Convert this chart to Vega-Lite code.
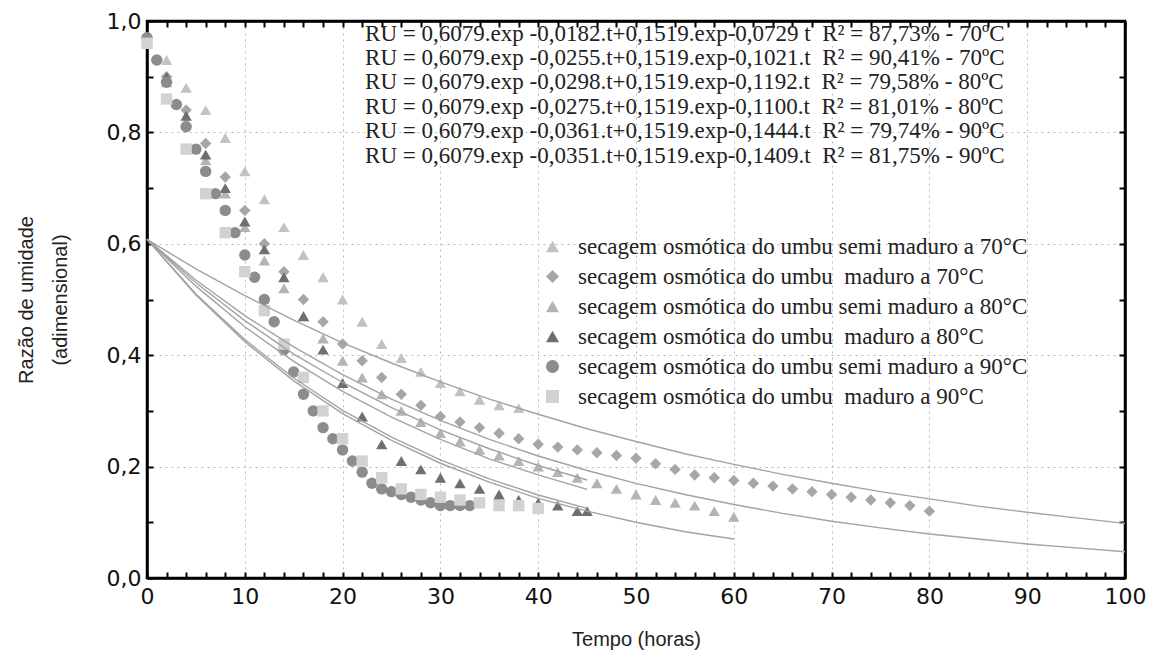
{
  "$schema": "https://vega.github.io/schema/vega-lite/v6.json",
  "width": 978,
  "height": 557,
  "autosize": {"type": "none"},
  "padding": {"left": 147, "top": 21, "right": 34, "bottom": 91},
  "background": "white",
  "config": {
    "view": {"stroke": "black", "strokeWidth": 2.5},
    "font": "Liberation Sans"
  },
  "datasets": {
    "obs": [
      {"s": "semi maduro a 70°C", "t": 0, "v": 0.97}, {"s": "semi maduro a 70°C", "t": 2, "v": 0.93}, {"s": "semi maduro a 70°C", "t": 4, "v": 0.88}, {"s": "semi maduro a 70°C", "t": 6, "v": 0.84}, {"s": "semi maduro a 70°C", "t": 8, "v": 0.79}, {"s": "semi maduro a 70°C", "t": 10, "v": 0.73}, {"s": "semi maduro a 70°C", "t": 12, "v": 0.68}, {"s": "semi maduro a 70°C", "t": 14, "v": 0.63}, {"s": "semi maduro a 70°C", "t": 16, "v": 0.58}, {"s": "semi maduro a 70°C", "t": 18, "v": 0.54}, {"s": "semi maduro a 70°C", "t": 20, "v": 0.5}, {"s": "semi maduro a 70°C", "t": 22, "v": 0.46}, {"s": "semi maduro a 70°C", "t": 24, "v": 0.42}, {"s": "semi maduro a 70°C", "t": 26, "v": 0.395}, {"s": "semi maduro a 70°C", "t": 28, "v": 0.37}, {"s": "semi maduro a 70°C", "t": 30, "v": 0.35}, {"s": "semi maduro a 70°C", "t": 32, "v": 0.335}, {"s": "semi maduro a 70°C", "t": 34, "v": 0.32}, {"s": "semi maduro a 70°C", "t": 36, "v": 0.31}, {"s": "semi maduro a 70°C", "t": 38, "v": 0.305},
      {"s": "\u00a0maduro a 70°C", "t": 0, "v": 0.97}, {"s": "\u00a0maduro a 70°C", "t": 2, "v": 0.9}, {"s": "\u00a0maduro a 70°C", "t": 4, "v": 0.84}, {"s": "\u00a0maduro a 70°C", "t": 6, "v": 0.78}, {"s": "\u00a0maduro a 70°C", "t": 8, "v": 0.72}, {"s": "\u00a0maduro a 70°C", "t": 10, "v": 0.66}, {"s": "\u00a0maduro a 70°C", "t": 12, "v": 0.6}, {"s": "\u00a0maduro a 70°C", "t": 14, "v": 0.55}, {"s": "\u00a0maduro a 70°C", "t": 16, "v": 0.5}, {"s": "\u00a0maduro a 70°C", "t": 18, "v": 0.46}, {"s": "\u00a0maduro a 70°C", "t": 20, "v": 0.42}, {"s": "\u00a0maduro a 70°C", "t": 22, "v": 0.39}, {"s": "\u00a0maduro a 70°C", "t": 24, "v": 0.36}, {"s": "\u00a0maduro a 70°C", "t": 26, "v": 0.33}, {"s": "\u00a0maduro a 70°C", "t": 28, "v": 0.31}, {"s": "\u00a0maduro a 70°C", "t": 30, "v": 0.29}, {"s": "\u00a0maduro a 70°C", "t": 32, "v": 0.28}, {"s": "\u00a0maduro a 70°C", "t": 34, "v": 0.27}, {"s": "\u00a0maduro a 70°C", "t": 36, "v": 0.26}, {"s": "\u00a0maduro a 70°C", "t": 38, "v": 0.25}, {"s": "\u00a0maduro a 70°C", "t": 40, "v": 0.24}, {"s": "\u00a0maduro a 70°C", "t": 42, "v": 0.235}, {"s": "\u00a0maduro a 70°C", "t": 44, "v": 0.23}, {"s": "\u00a0maduro a 70°C", "t": 46, "v": 0.225}, {"s": "\u00a0maduro a 70°C", "t": 48, "v": 0.22}, {"s": "\u00a0maduro a 70°C", "t": 50, "v": 0.215}, {"s": "\u00a0maduro a 70°C", "t": 52, "v": 0.205}, {"s": "\u00a0maduro a 70°C", "t": 54, "v": 0.195}, {"s": "\u00a0maduro a 70°C", "t": 56, "v": 0.185}, {"s": "\u00a0maduro a 70°C", "t": 58, "v": 0.18}, {"s": "\u00a0maduro a 70°C", "t": 60, "v": 0.175}, {"s": "\u00a0maduro a 70°C", "t": 62, "v": 0.17}, {"s": "\u00a0maduro a 70°C", "t": 64, "v": 0.165}, {"s": "\u00a0maduro a 70°C", "t": 66, "v": 0.16}, {"s": "\u00a0maduro a 70°C", "t": 68, "v": 0.155}, {"s": "\u00a0maduro a 70°C", "t": 70, "v": 0.15}, {"s": "\u00a0maduro a 70°C", "t": 72, "v": 0.145}, {"s": "\u00a0maduro a 70°C", "t": 74, "v": 0.14}, {"s": "\u00a0maduro a 70°C", "t": 76, "v": 0.135}, {"s": "\u00a0maduro a 70°C", "t": 78, "v": 0.13}, {"s": "\u00a0maduro a 70°C", "t": 80, "v": 0.12},
      {"s": "semi maduro a 80°C", "t": 0, "v": 0.96}, {"s": "semi maduro a 80°C", "t": 2, "v": 0.89}, {"s": "semi maduro a 80°C", "t": 4, "v": 0.82}, {"s": "semi maduro a 80°C", "t": 6, "v": 0.75}, {"s": "semi maduro a 80°C", "t": 8, "v": 0.69}, {"s": "semi maduro a 80°C", "t": 10, "v": 0.63}, {"s": "semi maduro a 80°C", "t": 12, "v": 0.57}, {"s": "semi maduro a 80°C", "t": 14, "v": 0.52}, {"s": "semi maduro a 80°C", "t": 16, "v": 0.47}, {"s": "semi maduro a 80°C", "t": 18, "v": 0.43}, {"s": "semi maduro a 80°C", "t": 20, "v": 0.39}, {"s": "semi maduro a 80°C", "t": 22, "v": 0.36}, {"s": "semi maduro a 80°C", "t": 24, "v": 0.33}, {"s": "semi maduro a 80°C", "t": 26, "v": 0.3}, {"s": "semi maduro a 80°C", "t": 28, "v": 0.28}, {"s": "semi maduro a 80°C", "t": 30, "v": 0.26}, {"s": "semi maduro a 80°C", "t": 32, "v": 0.245}, {"s": "semi maduro a 80°C", "t": 34, "v": 0.23}, {"s": "semi maduro a 80°C", "t": 36, "v": 0.22}, {"s": "semi maduro a 80°C", "t": 38, "v": 0.21}, {"s": "semi maduro a 80°C", "t": 40, "v": 0.2}, {"s": "semi maduro a 80°C", "t": 42, "v": 0.19}, {"s": "semi maduro a 80°C", "t": 44, "v": 0.18}, {"s": "semi maduro a 80°C", "t": 46, "v": 0.17}, {"s": "semi maduro a 80°C", "t": 48, "v": 0.16}, {"s": "semi maduro a 80°C", "t": 50, "v": 0.15}, {"s": "semi maduro a 80°C", "t": 52, "v": 0.14}, {"s": "semi maduro a 80°C", "t": 54, "v": 0.135}, {"s": "semi maduro a 80°C", "t": 56, "v": 0.13}, {"s": "semi maduro a 80°C", "t": 58, "v": 0.12}, {"s": "semi maduro a 80°C", "t": 60, "v": 0.11},
      {"s": "\u00a0maduro a 80°C", "t": 0, "v": 0.97}, {"s": "\u00a0maduro a 80°C", "t": 2, "v": 0.9}, {"s": "\u00a0maduro a 80°C", "t": 4, "v": 0.83}, {"s": "\u00a0maduro a 80°C", "t": 6, "v": 0.76}, {"s": "\u00a0maduro a 80°C", "t": 8, "v": 0.7}, {"s": "\u00a0maduro a 80°C", "t": 10, "v": 0.64}, {"s": "\u00a0maduro a 80°C", "t": 12, "v": 0.59}, {"s": "\u00a0maduro a 80°C", "t": 14, "v": 0.54}, {"s": "\u00a0maduro a 80°C", "t": 16, "v": 0.47}, {"s": "\u00a0maduro a 80°C", "t": 18, "v": 0.41}, {"s": "\u00a0maduro a 80°C", "t": 20, "v": 0.35}, {"s": "\u00a0maduro a 80°C", "t": 22, "v": 0.29}, {"s": "\u00a0maduro a 80°C", "t": 24, "v": 0.24}, {"s": "\u00a0maduro a 80°C", "t": 26, "v": 0.21}, {"s": "\u00a0maduro a 80°C", "t": 28, "v": 0.195}, {"s": "\u00a0maduro a 80°C", "t": 30, "v": 0.18}, {"s": "\u00a0maduro a 80°C", "t": 32, "v": 0.17}, {"s": "\u00a0maduro a 80°C", "t": 34, "v": 0.16}, {"s": "\u00a0maduro a 80°C", "t": 36, "v": 0.15}, {"s": "\u00a0maduro a 80°C", "t": 38, "v": 0.14}, {"s": "\u00a0maduro a 80°C", "t": 40, "v": 0.135}, {"s": "\u00a0maduro a 80°C", "t": 42, "v": 0.13}, {"s": "\u00a0maduro a 80°C", "t": 44, "v": 0.12}, {"s": "\u00a0maduro a 80°C", "t": 45, "v": 0.12},
      {"s": "semi maduro a 90°C", "t": 0, "v": 0.97}, {"s": "semi maduro a 90°C", "t": 1, "v": 0.93}, {"s": "semi maduro a 90°C", "t": 2, "v": 0.89}, {"s": "semi maduro a 90°C", "t": 3, "v": 0.85}, {"s": "semi maduro a 90°C", "t": 4, "v": 0.81}, {"s": "semi maduro a 90°C", "t": 5, "v": 0.77}, {"s": "semi maduro a 90°C", "t": 6, "v": 0.73}, {"s": "semi maduro a 90°C", "t": 7, "v": 0.69}, {"s": "semi maduro a 90°C", "t": 8, "v": 0.66}, {"s": "semi maduro a 90°C", "t": 9, "v": 0.62}, {"s": "semi maduro a 90°C", "t": 10, "v": 0.58}, {"s": "semi maduro a 90°C", "t": 11, "v": 0.54}, {"s": "semi maduro a 90°C", "t": 12, "v": 0.5}, {"s": "semi maduro a 90°C", "t": 13, "v": 0.46}, {"s": "semi maduro a 90°C", "t": 14, "v": 0.41}, {"s": "semi maduro a 90°C", "t": 15, "v": 0.37}, {"s": "semi maduro a 90°C", "t": 16, "v": 0.33}, {"s": "semi maduro a 90°C", "t": 17, "v": 0.3}, {"s": "semi maduro a 90°C", "t": 18, "v": 0.27}, {"s": "semi maduro a 90°C", "t": 19, "v": 0.25}, {"s": "semi maduro a 90°C", "t": 20, "v": 0.23}, {"s": "semi maduro a 90°C", "t": 21, "v": 0.21}, {"s": "semi maduro a 90°C", "t": 22, "v": 0.19}, {"s": "semi maduro a 90°C", "t": 23, "v": 0.17}, {"s": "semi maduro a 90°C", "t": 24, "v": 0.16}, {"s": "semi maduro a 90°C", "t": 25, "v": 0.155}, {"s": "semi maduro a 90°C", "t": 26, "v": 0.15}, {"s": "semi maduro a 90°C", "t": 27, "v": 0.145}, {"s": "semi maduro a 90°C", "t": 28, "v": 0.14}, {"s": "semi maduro a 90°C", "t": 29, "v": 0.135}, {"s": "semi maduro a 90°C", "t": 30, "v": 0.13}, {"s": "semi maduro a 90°C", "t": 31, "v": 0.13}, {"s": "semi maduro a 90°C", "t": 32, "v": 0.13}, {"s": "semi maduro a 90°C", "t": 33, "v": 0.13},
      {"s": "\u00a0maduro a 90°C", "t": 0, "v": 0.96}, {"s": "\u00a0maduro a 90°C", "t": 2, "v": 0.86}, {"s": "\u00a0maduro a 90°C", "t": 4, "v": 0.77}, {"s": "\u00a0maduro a 90°C", "t": 6, "v": 0.69}, {"s": "\u00a0maduro a 90°C", "t": 8, "v": 0.62}, {"s": "\u00a0maduro a 90°C", "t": 10, "v": 0.55}, {"s": "\u00a0maduro a 90°C", "t": 12, "v": 0.48}, {"s": "\u00a0maduro a 90°C", "t": 14, "v": 0.42}, {"s": "\u00a0maduro a 90°C", "t": 16, "v": 0.36}, {"s": "\u00a0maduro a 90°C", "t": 18, "v": 0.3}, {"s": "\u00a0maduro a 90°C", "t": 20, "v": 0.25}, {"s": "\u00a0maduro a 90°C", "t": 22, "v": 0.21}, {"s": "\u00a0maduro a 90°C", "t": 24, "v": 0.18}, {"s": "\u00a0maduro a 90°C", "t": 26, "v": 0.16}, {"s": "\u00a0maduro a 90°C", "t": 28, "v": 0.15}, {"s": "\u00a0maduro a 90°C", "t": 30, "v": 0.145}, {"s": "\u00a0maduro a 90°C", "t": 32, "v": 0.14}, {"s": "\u00a0maduro a 90°C", "t": 34, "v": 0.135}, {"s": "\u00a0maduro a 90°C", "t": 36, "v": 0.13}, {"s": "\u00a0maduro a 90°C", "t": 38, "v": 0.13}, {"s": "\u00a0maduro a 90°C", "t": 40, "v": 0.125}
    ],
    "fit": [
      {"c": "L1", "t": 0, "v": 0.608}, {"c": "L1", "t": 5, "v": 0.555}, {"c": "L1", "t": 10, "v": 0.507}, {"c": "L1", "t": 15, "v": 0.463}, {"c": "L1", "t": 20, "v": 0.422}, {"c": "L1", "t": 25, "v": 0.386}, {"c": "L1", "t": 30, "v": 0.352}, {"c": "L1", "t": 35, "v": 0.321}, {"c": "L1", "t": 40, "v": 0.294}, {"c": "L1", "t": 45, "v": 0.268}, {"c": "L1", "t": 50, "v": 0.245}, {"c": "L1", "t": 55, "v": 0.223}, {"c": "L1", "t": 60, "v": 0.204}, {"c": "L1", "t": 65, "v": 0.186}, {"c": "L1", "t": 70, "v": 0.17}, {"c": "L1", "t": 75, "v": 0.155}, {"c": "L1", "t": 80, "v": 0.142}, {"c": "L1", "t": 85, "v": 0.129}, {"c": "L1", "t": 90, "v": 0.118}, {"c": "L1", "t": 95, "v": 0.108}, {"c": "L1", "t": 100, "v": 0.098},
      {"c": "L2", "t": 0, "v": 0.608}, {"c": "L2", "t": 5, "v": 0.535}, {"c": "L2", "t": 10, "v": 0.471}, {"c": "L2", "t": 15, "v": 0.415}, {"c": "L2", "t": 20, "v": 0.365}, {"c": "L2", "t": 25, "v": 0.321}, {"c": "L2", "t": 30, "v": 0.283}, {"c": "L2", "t": 35, "v": 0.249}, {"c": "L2", "t": 40, "v": 0.219}, {"c": "L2", "t": 45, "v": 0.193}, {"c": "L2", "t": 50, "v": 0.17}, {"c": "L2", "t": 55, "v": 0.15}, {"c": "L2", "t": 60, "v": 0.132}, {"c": "L2", "t": 65, "v": 0.116}, {"c": "L2", "t": 70, "v": 0.102}, {"c": "L2", "t": 75, "v": 0.09}, {"c": "L2", "t": 80, "v": 0.079}, {"c": "L2", "t": 85, "v": 0.07}, {"c": "L2", "t": 90, "v": 0.061}, {"c": "L2", "t": 95, "v": 0.054}, {"c": "L2", "t": 100, "v": 0.047},
      {"c": "L3", "t": 0, "v": 0.608}, {"c": "L3", "t": 5, "v": 0.524}, {"c": "L3", "t": 10, "v": 0.451}, {"c": "L3", "t": 15, "v": 0.389}, {"c": "L3", "t": 20, "v": 0.335}, {"c": "L3", "t": 25, "v": 0.289}, {"c": "L3", "t": 30, "v": 0.249}, {"c": "L3", "t": 35, "v": 0.214}, {"c": "L3", "t": 40, "v": 0.185}, {"c": "L3", "t": 45, "v": 0.159},
      {"c": "L4", "t": 0, "v": 0.608}, {"c": "L4", "t": 5, "v": 0.53}, {"c": "L4", "t": 10, "v": 0.462}, {"c": "L4", "t": 15, "v": 0.402}, {"c": "L4", "t": 20, "v": 0.351}, {"c": "L4", "t": 25, "v": 0.306}, {"c": "L4", "t": 30, "v": 0.266}, {"c": "L4", "t": 35, "v": 0.232}, {"c": "L4", "t": 40, "v": 0.202}, {"c": "L4", "t": 45, "v": 0.176},
      {"c": "L5", "t": 0, "v": 0.608}, {"c": "L5", "t": 5, "v": 0.508}, {"c": "L5", "t": 10, "v": 0.424}, {"c": "L5", "t": 15, "v": 0.354}, {"c": "L5", "t": 20, "v": 0.295}, {"c": "L5", "t": 25, "v": 0.247}, {"c": "L5", "t": 30, "v": 0.206}, {"c": "L5", "t": 35, "v": 0.172}, {"c": "L5", "t": 40, "v": 0.143}, {"c": "L5", "t": 45, "v": 0.12}, {"c": "L5", "t": 50, "v": 0.1}, {"c": "L5", "t": 55, "v": 0.083}, {"c": "L5", "t": 60, "v": 0.07},
      {"c": "L6", "t": 0, "v": 0.608}, {"c": "L6", "t": 5, "v": 0.51}, {"c": "L6", "t": 10, "v": 0.428}, {"c": "L6", "t": 15, "v": 0.359}, {"c": "L6", "t": 20, "v": 0.301}, {"c": "L6", "t": 25, "v": 0.253}, {"c": "L6", "t": 30, "v": 0.212}, {"c": "L6", "t": 35, "v": 0.178}, {"c": "L6", "t": 40, "v": 0.149}, {"c": "L6", "t": 45, "v": 0.125}
    ],
    "eq": [
      {"x": 22.3, "y": 0.977, "label": "RU = 0,6079.exp -0,0182.t+0,1519.exp-0,0729 t \u00a0R² = 87,73% - 70ºC"},
      {"x": 22.3, "y": 0.934, "label": "RU = 0,6079.exp -0,0255.t+0,1519.exp-0,1021.t \u00a0R² = 90,41% - 70ºC"},
      {"x": 22.3, "y": 0.89, "label": "RU = 0,6079.exp -0,0298.t+0,1519.exp-0,1192.t \u00a0R² = 79,58% - 80ºC"},
      {"x": 22.3, "y": 0.846, "label": "RU = 0,6079.exp -0,0275.t+0,1519.exp-0,1100.t \u00a0R² = 81,01% - 80ºC"},
      {"x": 22.3, "y": 0.803, "label": "RU = 0,6079.exp -0,0361.t+0,1519.exp-0,1444.t \u00a0R² = 79,74% - 90ºC"},
      {"x": 22.3, "y": 0.758, "label": "RU = 0,6079.exp -0,0351.t+0,1519.exp-0,1409.t \u00a0R² = 81,75% - 90ºC"}
    ]
  },
  "layer": [
    {
      "data": {"name": "obs"},
      "mark": {"type": "point", "filled": true, "opacity": 1, "size": 130},
      "encoding": {
        "x": {
          "field": "t", "type": "quantitative",
          "scale": {"domain": [0, 100], "nice": false},
          "axis": {
            "orient": "bottom",
            "title": "Tempo (horas)",
            "titleFont": "Liberation Sans", "titleFontSize": 20, "titleFontWeight": "normal", "titleColor": "#222", "titlePadding": 22,
            "values": [0,2,4,6,8,10,12,14,16,18,20,22,24,26,28,30,32,34,36,38,40,42,44,46,48,50,52,54,56,58,60,62,64,66,68,70,72,74,76,78,80,82,84,86,88,90,92,94,96,98,100],
            "labelExpr": "datum.value % 10 === 0 ? datum.label : ''",
            "labelFont": "DejaVu Sans", "labelFontSize": 22, "labelColor": "#111", "labelPadding": 14,
            "labelFlush": false, "labelOverlap": false,
            "domainColor": "black", "domainWidth": 2.5,
            "tickColor": "black", "tickWidth": 2, "tickSize": -6,
            "grid": true, "gridColor": "#b8b8b8", "gridDash": [2, 4], "gridWidth": 1,
            "gridOpacity": {"condition": {"test": "datum.value % 10 === 0", "value": 1}, "value": 0}
          }
        },
        "y": {
          "field": "v", "type": "quantitative",
          "scale": {"domain": [0, 1], "nice": false},
          "axis": {
            "orient": "left",
            "title": ["Razão de umidade", "(adimensional)"],
            "titleFont": "Liberation Sans", "titleFontSize": 20, "titleFontWeight": "normal", "titleColor": "#222", "titlePadding": 36, "titleLineHeight": 34,
            "values": [0, 0.1, 0.2, 0.3, 0.4, 0.5, 0.6, 0.7, 0.8, 0.9, 1],
            "labelExpr": "round(datum.value * 10) % 2 === 0 ? replace(format(datum.value, '.1f'), '.', ',') : ''",
            "labelFont": "DejaVu Sans", "labelFontSize": 22, "labelColor": "#111", "labelPadding": 12,
            "labelOverlap": false,
            "domainColor": "black", "domainWidth": 2.5,
            "tickColor": "black", "tickWidth": 2, "tickSize": -6,
            "grid": true, "gridColor": "#b8b8b8", "gridDash": [2, 4], "gridWidth": 1,
            "gridOpacity": {"condition": {"test": "round(datum.value * 10) % 2 === 0", "value": 1}, "value": 0}
          }
        },
        "color": {
          "field": "s", "type": "nominal",
          "scale": {
            "domain": ["semi maduro a 70°C", "\u00a0maduro a 70°C", "semi maduro a 80°C", "\u00a0maduro a 80°C", "semi maduro a 90°C", "\u00a0maduro a 90°C"],
            "range": ["#c2c2c2", "#a6a6a6", "#b4b4b4", "#6f6f6f", "#8c8c8c", "#d2d2d2"]
          },
          "legend": {
            "orient": "none", "legendX": 394, "legendY": 214,
            "title": null,
            "labelExpr": "'secagem osmótica do umbu ' + datum.label",
            "labelFont": "Liberation Serif", "labelFontSize": 23, "labelColor": "#222", "labelLimit": 700,
            "labelOffset": 14, "rowPadding": 6, "symbolSize": 170
          }
        },
        "shape": {
          "field": "s", "type": "nominal",
          "scale": {
            "domain": ["semi maduro a 70°C", "\u00a0maduro a 70°C", "semi maduro a 80°C", "\u00a0maduro a 80°C", "semi maduro a 90°C", "\u00a0maduro a 90°C"],
            "range": ["triangle-up", "diamond", "triangle-up", "triangle-up", "circle", "square"]
          },
          "legend": {
            "orient": "none", "legendX": 394, "legendY": 214,
            "title": null,
            "labelExpr": "'secagem osmótica do umbu ' + datum.label",
            "labelFont": "Liberation Serif", "labelFontSize": 23, "labelColor": "#222", "labelLimit": 700,
            "labelOffset": 14, "rowPadding": 6, "symbolSize": 170
          }
        }
      }
    },
    {
      "data": {"name": "fit"},
      "mark": {"type": "line", "color": "#a3a3a3", "strokeWidth": 1.4},
      "encoding": {
        "x": {
          "field": "t", "type": "quantitative",
          "scale": {"domain": [0, 100], "nice": false},
          "axis": {
            "orient": "top", "title": null, "labels": false,
            "values": [0,2,4,6,8,10,12,14,16,18,20,22,24,26,28,30,32,34,36,38,40,42,44,46,48,50,52,54,56,58,60,62,64,66,68,70,72,74,76,78,80,82,84,86,88,90,92,94,96,98,100],
            "domainColor": "black", "domainWidth": 2.5,
            "tickColor": "black", "tickWidth": 2, "tickSize": -6, "grid": false
          }
        },
        "y": {
          "field": "v", "type": "quantitative",
          "scale": {"domain": [0, 1], "nice": false},
          "axis": {
            "orient": "right", "title": null, "labels": false,
            "values": [0, 0.1, 0.2, 0.3, 0.4, 0.5, 0.6, 0.7, 0.8, 0.9, 1],
            "domainColor": "black", "domainWidth": 2.5,
            "tickColor": "black", "tickWidth": 2, "tickSize": -6, "grid": false
          }
        },
        "detail": {"field": "c", "type": "nominal"}
      }
    },
    {
      "data": {"name": "eq"},
      "mark": {"type": "text", "align": "left", "baseline": "middle", "font": "Liberation Serif", "fontSize": 23, "color": "#222"},
      "encoding": {
        "x": {"field": "x", "type": "quantitative", "axis": null},
        "y": {"field": "y", "type": "quantitative", "axis": null},
        "text": {"field": "label"}
      }
    }
  ],
  "resolve": {"axis": {"x": "independent", "y": "independent"}}
}
